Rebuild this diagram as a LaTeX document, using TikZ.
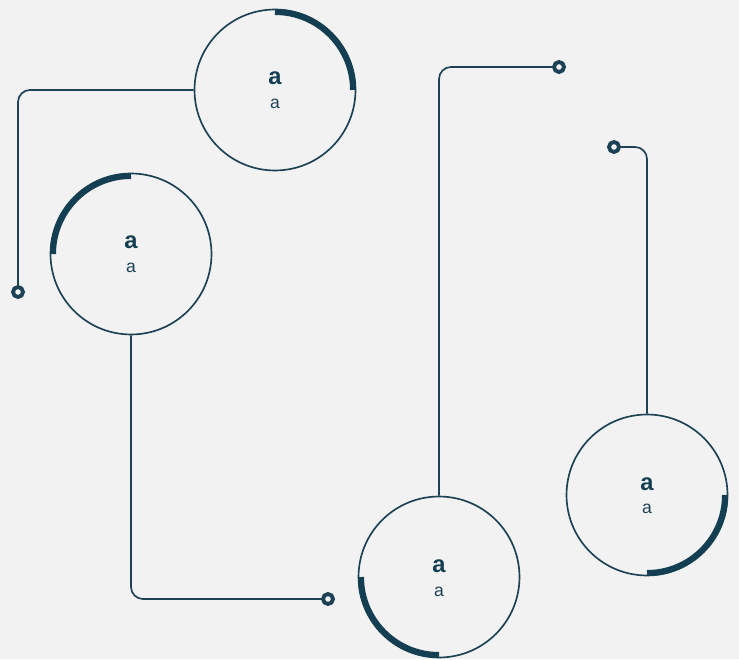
\documentclass[tikz,border=0pt]{standalone}
\usepackage{fontspec}
\setmainfont{Liberation Sans}
\setsansfont{Liberation Sans}
\usetikzlibrary{positioning, calc}
\definecolor{bg-color}{HTML}{F2F2F2}
\definecolor{line-color}{HTML}{1D4255}
\definecolor{arc-color}{HTML}{143F52}
\tikzstyle{station} = [circle, draw=line-color, line width=0.95pt, minimum size=3.22cm, inner sep=0pt]
\tikzstyle{wire} = [draw=line-color, line width=0.95pt, rounded corners=0.24cm]
\tikzstyle{endstop} = [circle, draw=line-color, fill=bg-color, line width=2.2pt, minimum size=0.2cm, inner sep=0pt]
\tikzstyle{progress} = [draw=arc-color, line width=3.4pt]
\tikzstyle{title} = [anchor=base, text=arc-color, inner sep=0pt, font=\sffamily\bfseries\fontsize{13.5}{16}\selectfont]
\tikzstyle{subtitle} = [anchor=base, text=line-color, inner sep=0pt, font=\sffamily\fontsize{10}{12}\selectfont]

\begin{document}
\begin{tikzpicture}[x=0.02cm, y=0.02cm]
    \fill[bg-color] (0,0) rectangle (739,659);
    \useasboundingbox (0,0) rectangle (739,659);

    \node[station] at (275, 569) (first) {};
    \node[station] at (131, 405) (second) {};
    \node[station] at (439, 82) (third) {};
    \node[station] at (647, 164) (fourth) {};

        \node[title] at ([yshift=0.1cm]first) (first-title) {a};
        \node[subtitle] at ([yshift=-0.38cm]first) (first-sub) {a};
        \node[title] at ([yshift=0.1cm]second) (second-title) {a};
        \node[subtitle] at ([yshift=-0.38cm]second) (second-sub) {a};
        \node[title] at ([yshift=0.1cm]third) (third-title) {a};
        \node[subtitle] at ([yshift=-0.38cm]third) (third-sub) {a};
        \node[title] at ([yshift=0.1cm]fourth) (fourth-title) {a};
        \node[subtitle] at ([yshift=-0.38cm]fourth) (fourth-sub) {a};

    % quarter arcs on the inner side of each ring
    \draw[progress] ([shift={(90:1.56cm)}]first.center) arc[start angle=90, end angle=0, radius=1.56cm];
    \draw[progress] ([shift={(90:1.56cm)}]second.center) arc[start angle=90, end angle=180, radius=1.56cm];
    \draw[progress] ([shift={(180:1.56cm)}]third.center) arc[start angle=180, end angle=270, radius=1.56cm];
    \draw[progress] ([shift={(270:1.56cm)}]fourth.center) arc[start angle=270, end angle=360, radius=1.56cm];

    \node[endstop] at (18, 367) (first-end) {};
    \node[endstop] at (328, 60) (second-end) {};
    \node[endstop] at (559, 592) (third-end) {};
    \node[endstop] at (614, 512) (fourth-end) {};

        \draw[wire] (first.west) -| (first-end);
        \draw[wire] (second.south) |- (second-end);
        \draw[wire] (third.north) |- (third-end);
        \draw[wire] (fourth.north) |- (fourth-end);
\end{tikzpicture}
\end{document}
